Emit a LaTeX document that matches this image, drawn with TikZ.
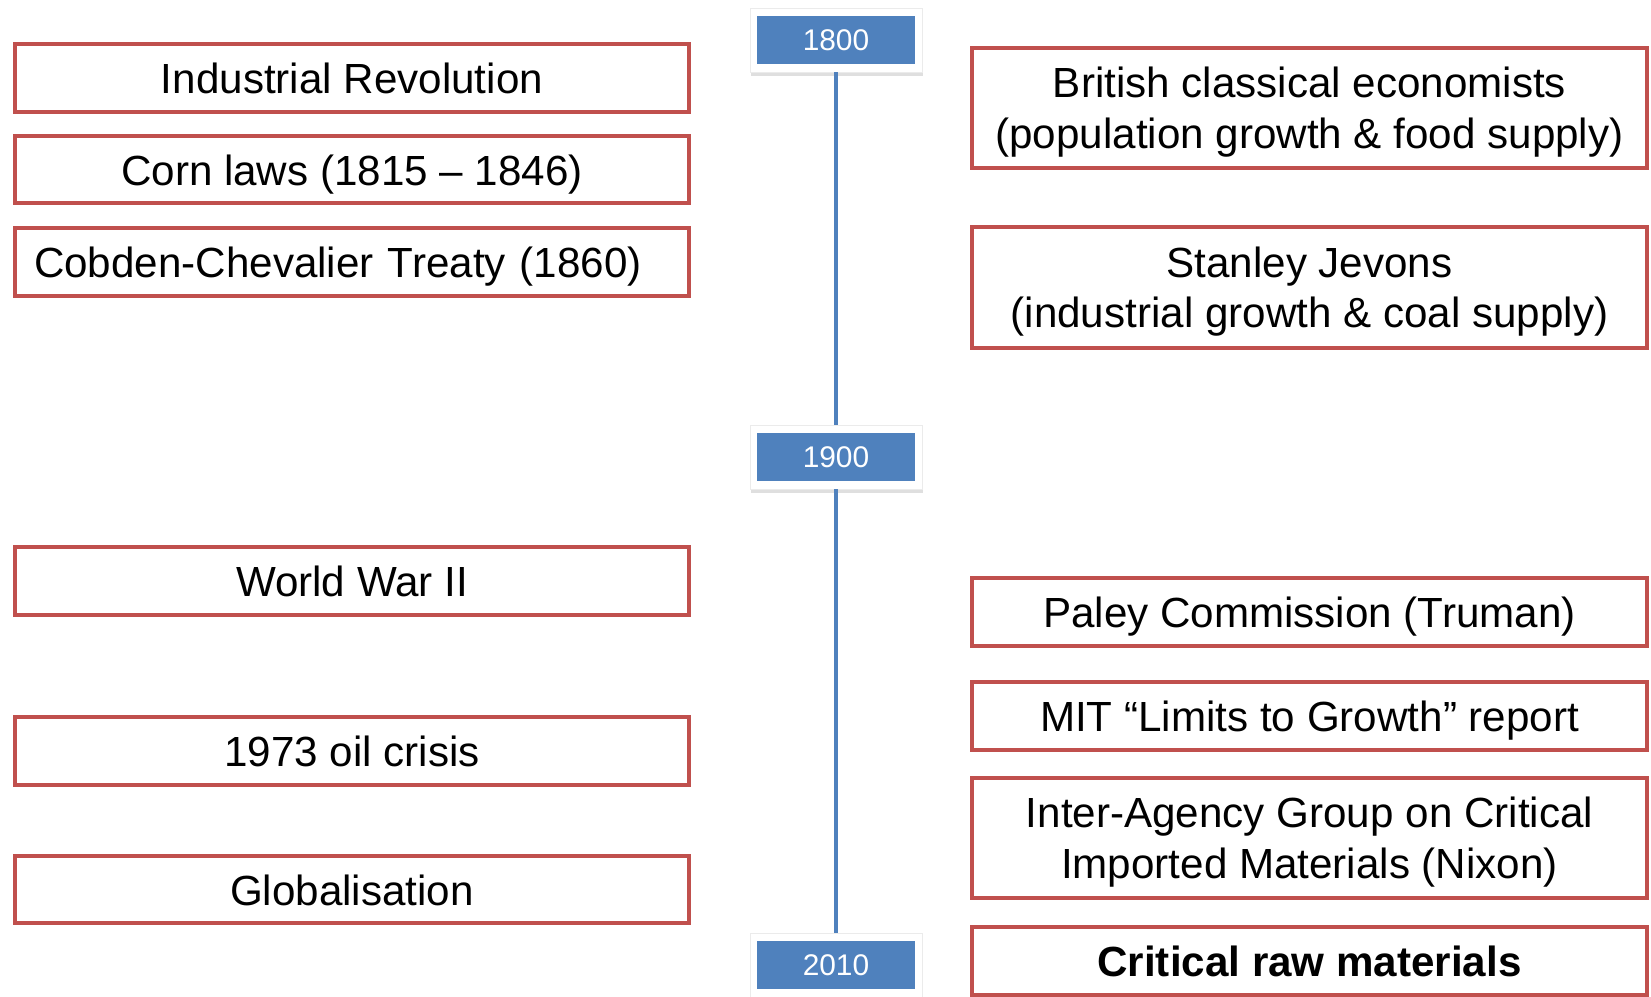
\documentclass[tikz,border=0pt]{standalone}
\usepackage{fontspec}
\setmainfont{Liberation Sans}
\usepackage{tikz}
\usetikzlibrary{positioning,shadows}
\usepackage{xcolor}
\definecolor{evred}{HTML}{C0504D}
\definecolor{tlblue}{HTML}{4F81BD}

\begin{document}
\begin{tikzpicture}[
  x=0.02cm, y=-0.02cm,
  event/.style={draw=evred, line width=0.08cm, fill=white, align=center, inner sep=0pt,
    minimum width=13.5cm, font=\fontsize{24}{28.5}\selectfont},
  short/.style={event, minimum height=1.36cm, text height=18.2pt, text depth=0pt},
  tall/.style={event, minimum height=2.42cm, text height=50.6pt, text depth=5pt},
  yearframe/.style={fill=white, draw=black!8, line width=0.4pt, minimum width=3.44cm, minimum height=1.28cm,
    inner sep=0pt, drop shadow={shadow xshift=0.5pt, shadow yshift=-2pt, opacity=0.25}},
  yearbox/.style={fill=tlblue, text=white, minimum width=3.16cm, minimum height=0.96cm, inner sep=0pt,
    font=\fontsize{17}{20}\selectfont},
  tline/.style={draw=tlblue, line width=2.6pt}
]
  \useasboundingbox (0,0) rectangle (1651,997);

  % timeline years
  \node[yearframe] (f1800) at (836,40) {};
  \node[yearbox] (y1800) at (f1800) {1800};
  \node[yearframe] (f1900) at (836,457) {};
  \node[yearbox] (y1900) at (f1900) {1900};
  \node[yearframe] (f2010) at (836,965) {};
  \node[yearbox] (y2010) at (f2010) {2010};
  \draw[tline] (f1800.south) -- (f1900.north);
  \draw[tline] (f1900.south) -- (f2010.north);

  % left column
  \node[short] (indrev) at (352,78) {Industrial Revolution};
  \node[short] (corn) at (352,169.5) {Corn laws (1815 -- 1846)};
  \node[short, align=left, text width=12.72cm, inner xsep=0.39cm] (cobden) at (352,262) {Cobden-Chevalier Treaty (1860)};
  \node[short] (ww2) at (352,581) {World War II};
  \node[short] (oil) at (352,751) {1973 oil crisis};
  \node[short] (glob) at (352,889.5) {Globalisation};

  % right column
  \node[tall] (brit) at (1309.5,108) {British classical economists\\(population growth \& food supply)};
  \node[tall] (jevons) at (1309.5,287.5) {Stanley Jevons\\(industrial growth \& coal supply)};
  \node[short] (paley) at (1309.5,612) {Paley Commission (Truman)};
  \node[short] (mit) at (1309.5,716) {MIT “Limits to Growth” report};
  \node[tall] (nixon) at (1309.5,838) {Inter-Agency Group on Critical\\Imported Materials (Nixon)};
  \node[short, font=\fontsize{24}{28.5}\selectfont\bfseries] (crm) at (1309.5,961) {Critical raw materials};
\end{tikzpicture}
\end{document}
